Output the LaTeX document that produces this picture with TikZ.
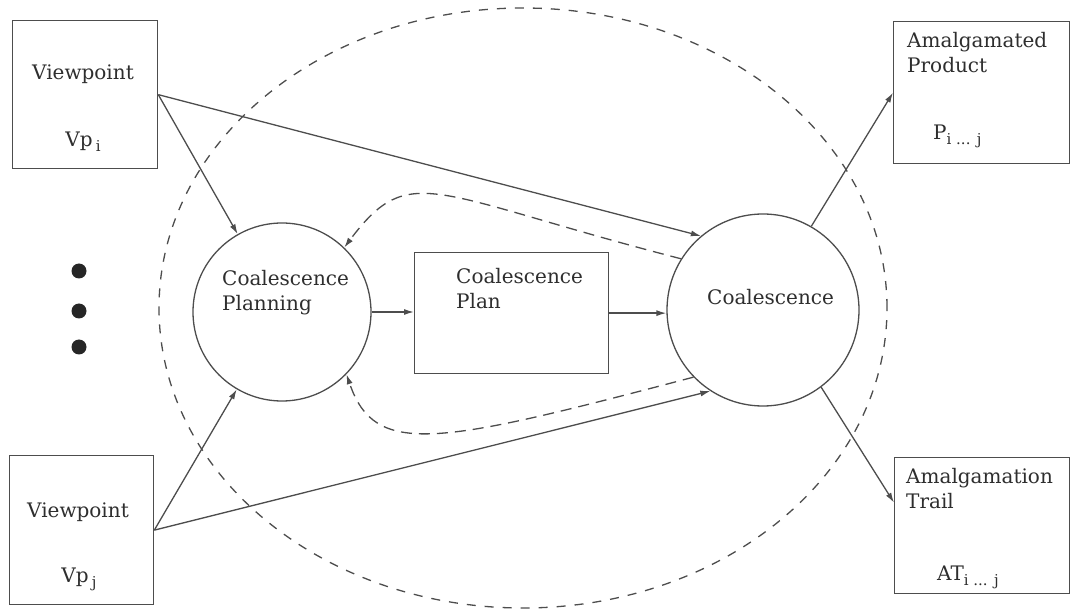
\documentclass[tikz,border=0pt]{standalone}
\usepackage{fontspec}
\setmainfont{DejaVu Serif}
\usetikzlibrary{arrows.meta}
\definecolor{lc}{HTML}{4D4D4D}
\definecolor{tc}{HTML}{2E2E2E}
\newcommand{\lsub}[1]{\raisebox{-5pt}{\fontsize{15}{15}\selectfont #1}}
\begin{document}
\begin{tikzpicture}[x=1pt,y=-1pt,
  ln/.style={draw=lc, line width=1.3pt},
  arr/.style={ln, -{Latex[length=10pt,width=6pt]}},
  dsh/.style={ln, dash pattern=on 11pt off 7pt},
  lbl/.style={font=\fontsize{20}{25}\selectfont, text=tc, inner sep=0pt, align=left},
  boxs/.style={ln, rectangle, inner sep=0pt, anchor=north west},
  circ/.style={ln, circle, inner sep=0pt},
  dot/.style={circle, fill=black!85, inner sep=0pt, minimum size=15pt}]
\useasboundingbox (0,0) rectangle (1071,609);
% big dashed ellipse
\draw[draw=lc, line width=1.3pt, dash pattern=on 9pt off 9pt] (523,308) ellipse [x radius=364pt, y radius=300pt];
% boxes
\node[boxs, minimum width=145pt, minimum height=148pt] (vpi) at (12,20) {};
\node[boxs, minimum width=144pt, minimum height=149pt] (vpj) at (9,455) {};
\node[boxs, minimum width=176pt, minimum height=142pt] (prod) at (893,21) {};
\node[boxs, minimum width=175pt, minimum height=136pt] (trail) at (894,457) {};
\node[boxs, minimum width=194pt, minimum height=121pt] (plan) at (414,252) {};
\node[circ, minimum size=178pt] (cp) at (282,312) {};
\node[circ, minimum size=192pt] (co) at (763,310) {};
% dots
\node[dot] (d1) at (79,271) {};
\node[dot] (d2) at (79,311) {};
\node[dot] (d3) at (79,347) {};
% labels
\node[lbl, anchor=base] (t1) at (83,80) {Viewpoint};
\node[lbl, anchor=base] (t2) at (83,147) {Vp\,\lsub{i}};
\node[lbl, anchor=base] (t3) at (78,517) {Viewpoint};
\node[lbl, anchor=base] (t4) at (79,582) {Vp\,\lsub{j}};
\node[lbl, anchor=base west] (t5) at (907,73) {Amalgamated\\Product};
\node[lbl, anchor=base west] (t6) at (933,140) {P\lsub{i ... j}};
\node[lbl, anchor=base west] (t7) at (906,508) {Amalgamation\\Trail};
\node[lbl, anchor=base west] (t8) at (937,580) {AT\lsub{i ... j}};
\node[lbl, anchor=base west] (t9) at (222,311) {Coalescence\\Planning};
\node[lbl, anchor=base west] (t10) at (456,309) {Coalescence\\Plan};
\node[lbl, anchor=base west] (t11) at (707,305) {Coalescence};
% connectors
\draw[arr] (vpi.east) -- (cp);
\draw[arr] (vpi.east) -- (co.130);
\draw[arr] (vpj.east) -- (cp);
\draw[arr] (vpj.east) -- (co.237);
\draw[arr] (cp.east) -- (cp.east -| plan.west);
\draw[arr] (plan.east) -- (plan.east -| co.west);
\draw[arr] (co.60) -- (prod.west);
\draw[arr] (co.307) -- ([yshift=23pt]trail.west);
\draw[dsh, -{Latex[length=10pt,width=6pt]}] (co.148) .. controls (430,194) and (410,160) .. (cp.46);
\draw[dsh, -{Latex[length=10pt,width=6pt]}] (co.224) .. controls (436,445) and (375,458) .. (cp.316);
\end{tikzpicture}
\end{document}
